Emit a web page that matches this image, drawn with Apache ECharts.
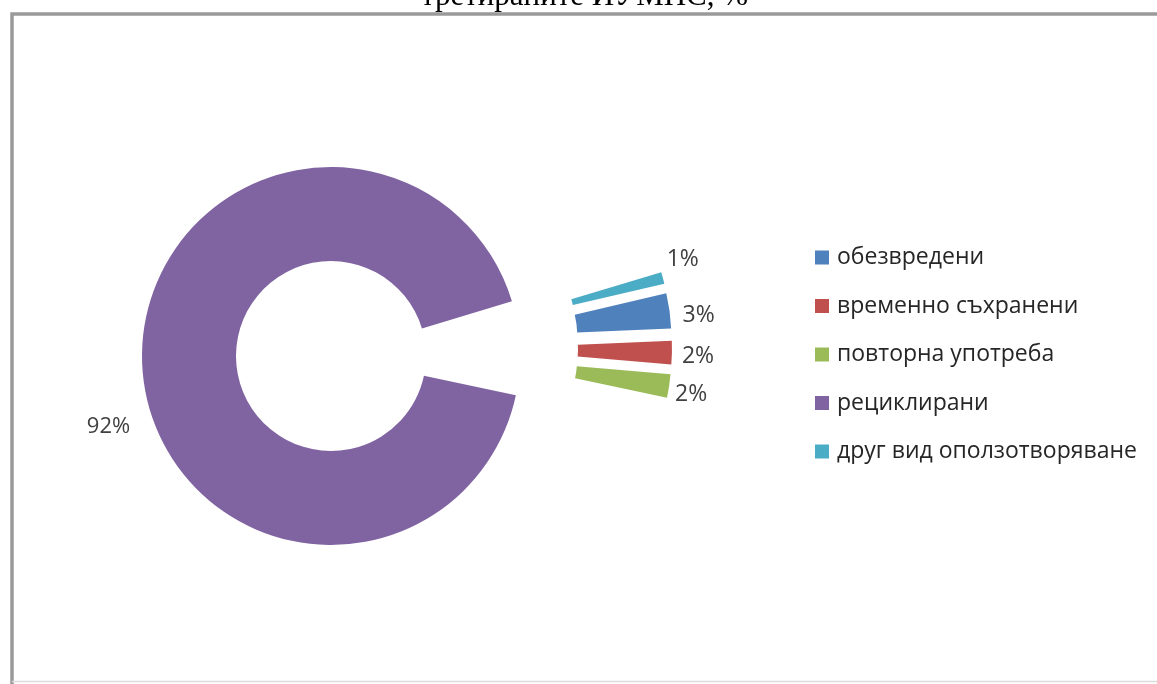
<!DOCTYPE html>
<html>
<head>
<meta charset="utf-8">
<script src="https://cdn.jsdelivr.net/npm/echarts@6/dist/echarts.min.js"></script>
<style>
html,body{margin:0;padding:0;background:#fff;}
#c{width:1157px;height:684px;}
</style>
</head>
<body>
<div id="c"></div>
<script>
// ---- data ----
const categories = ['обезвредени', 'временно съхранени', 'повторна употреба', 'рециклирани', 'друг вид оползотворяване'];
const values = [3, 2, 2, 92, 1];
const colors = ['#4F81BD', '#C0504D', '#9BBB59', '#8064A2', '#4BACC6'];
const titleText = 'третираните ИУМПС, %';
const mainIndex = 3; // the large slice

const chart = echarts.init(document.getElementById('c'), null, {renderer: 'canvas'});
const labelFont = '"Open Sans", "Noto Sans", sans-serif';

// series A: small exploded slices (large slice kept transparent for correct angles)
const dataSmall = categories.map((n, i) => ({
  name: n,
  value: values[i],
  selected: i !== mainIndex,
  itemStyle: {color: i === mainIndex ? 'rgba(0,0,0,0)' : colors[i]},
  label: {show: i !== mainIndex},
  emphasis: {disabled: true}
}));
// series B: large slice (small ones transparent)
const dataMain = categories.map((n, i) => ({
  name: n,
  value: values[i],
  itemStyle: {color: i === mainIndex ? colors[i] : 'rgba(0,0,0,0)'},
  label: {show: i === mainIndex},
  emphasis: {disabled: true}
}));

const option = {
  backgroundColor: '#ffffff',
  animation: false,
  title: {
    text: titleText,
    left: 421,
    top: -18.5,
    padding: 0,
    textStyle: {fontFamily: '"Liberation Serif", "Times New Roman", serif', fontSize: 31, fontWeight: 'normal', color: '#000'}
  },
  legend: {
    orient: 'vertical',
    left: 810,
    top: 241,
    itemWidth: 14,
    itemHeight: 14,
    itemGap: 25.5,
    icon: 'rect',
    selectedMode: false,
    textStyle: {fontFamily: labelFont, fontSize: 23, lineHeight: 23, color: '#262626', padding: [0, 0, 0, 3]},
    data: categories.map((n, i) => ({name: n, itemStyle: {color: colors[i]}}))
  },
  graphic: [
    {
      type: 'polyline',
      shape: {points: [[12, 684], [12, 14], [1157, 14]]},
      style: {fill: 'none', stroke: '#9a9a9a', lineWidth: 3.5},
      silent: true,
      z: -1
    },
    {
      type: 'line',
      shape: {x1: 12, y1: 681.5, x2: 1157, y2: 681.5},
      style: {stroke: '#dcdcdc', lineWidth: 1.5},
      silent: true,
      z: -1
    }
  ],
  series: [
    {
      type: 'pie',
      name: 'small',
      center: [405, 347],
      radius: [95, 189],
      startAngle: 13.2,
      clockwise: true,
      selectedMode: 'multiple',
      selectedOffset: 78,
      avoidLabelOverlap: false,
      label: {
        position: 'outside',
        formatter: '{c}%',
        fontFamily: labelFont,
        fontSize: 23,
        color: '#404040',
        distanceToLabelLine: 2
      },
      labelLine: {show: false, length: 6, length2: 0},
      labelLayout: function (p) {
        if (p.dataIndex === 4) return {dx: -4, dy: -17};
        if (p.dataIndex === 0) return {dx: 5, dy: 6};
        if (p.dataIndex === 1) return {dx: 2, dy: 4};
        if (p.dataIndex === 2) return {dx: -2, dy: 8};
        return {};
      },
      data: dataSmall
    },
    {
      type: 'pie',
      name: 'main',
      center: [331, 356],
      radius: [95, 189],
      startAngle: 13.2,
      clockwise: true,
      selectedMode: false,
      avoidLabelOverlap: false,
      label: {
        position: 'outside',
        formatter: '{c}%',
        fontFamily: labelFont,
        fontSize: 22,
        color: '#404040',
        distanceToLabelLine: 2
      },
      labelLine: {show: false, length: 10, length2: 0},
      labelLayout: function (p) {
        if (p.dataIndex === mainIndex) return {dy: 62};
        return {};
      },
      data: dataMain
    }
  ]
};
chart.setOption(option);
</script>
</body>
</html>
